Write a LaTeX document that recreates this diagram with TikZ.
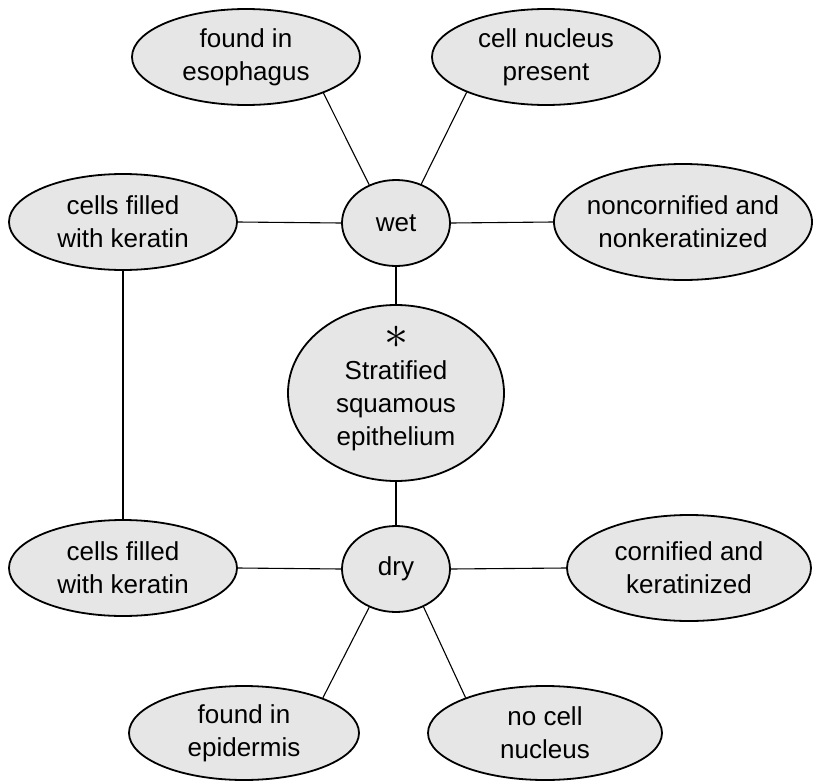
\documentclass[tikz,border=0pt]{standalone}
\usepackage{fontspec}
\setmainfont{Liberation Sans}
\usetikzlibrary{shapes.geometric}
\definecolor{fillgray}{RGB}{230,230,230}
\tikzset{
  blob/.style={ellipse, draw=black, line width=1.8pt, fill=fillgray, inner sep=0pt},
  lbl/.style={align=center, inner sep=0pt, font=\fontsize{26}{33}\selectfont},
  link/.style={line width=1.1pt}
}
\begin{document}
\begin{tikzpicture}[x=1pt,y=-1pt]
\useasboundingbox (0,0) rectangle (815,782);
% ellipses
\node[blob, minimum width=228pt, minimum height=96pt] (eso) at (246,57) {};
\node[blob, minimum width=228pt, minimum height=96pt] (nuc) at (546,57) {};
\node[blob, minimum width=228pt, minimum height=96pt] (cf1) at (123,222) {};
\node[blob, minimum width=108pt, minimum height=86pt] (wet) at (396,223) {};
\node[blob, minimum width=258pt, minimum height=116pt] (nonc) at (683,222) {};
\node[blob, minimum width=216pt, minimum height=176pt] (sse) at (396,393) {};
\node[blob, minimum width=108pt, minimum height=86pt] (dry) at (396,569) {};
\node[blob, minimum width=228pt, minimum height=96pt] (cf2) at (123,568) {};
\node[blob, minimum width=244pt, minimum height=106pt] (corn) at (689,568) {};
\node[blob, minimum width=230pt, minimum height=94pt] (epi) at (244,733) {};
\node[blob, minimum width=234pt, minimum height=94pt] (noc) at (545,733) {};
% texts
\node[lbl] (teso) at (eso) {found in\\esophagus};
\node[lbl] (tnuc) at (nuc) {cell nucleus\\present};
\node[lbl] (tcf1) at (cf1) {cells filled\\with keratin};
\node[lbl] (twet) at (wet) {wet};
\node[lbl] (tnonc) at (nonc) {noncornified and\\nonkeratinized};
\node[scale=4.8, inner sep=0pt] (tstar) at (396,337) {$\ast$};
\node[lbl] (tsse) at (396,406) {Stratified\\squamous\\epithelium};
\node[lbl] (tdry) at (dry) {dry};
\node[lbl] (tcf2) at (cf2) {cells filled\\with keratin};
\node[lbl] (tcorn) at (corn) {cornified and\\keratinized};
\node[lbl] (tepi) at (epi) {found in\\epidermis};
\node[lbl] (tnoc) at (noc) {no cell\\nucleus};
% connectors
\draw[link] (wet.125) -- (eso.-25);
\draw[link] (wet.57) -- (nuc.204);
\draw[link] (wet.west) -- (cf1.east);
\draw[link] (wet.east) -- (nonc.west);
\draw[link] (wet.south) -- (sse.north);
\draw[link] (sse.south) -- (dry.north);
\draw[link] (dry.west) -- (cf2.east);
\draw[link] (dry.east) -- (corn.west);
\draw[link] (dry.235) -- (epi.24);
\draw[link] (dry.306) -- (noc.156);
\draw[link] (cf1.south) -- (cf2.north);
\end{tikzpicture}
\end{document}
